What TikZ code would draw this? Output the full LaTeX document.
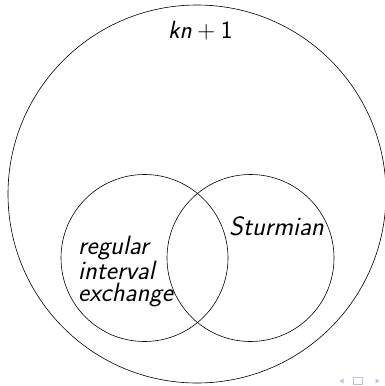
\documentclass[tikz,border=0pt]{standalone}
\usepackage{fontspec}
\definecolor{navcol}{RGB}{192,192,222}
\tikzset{
  setcircle/.style={circle, draw=black, line width=0.6pt, inner sep=0pt},
  lbl/.style={inner sep=0pt, font=\fontsize{26.5}{22}\selectfont\sffamily\itshape},
  toplbl/.style={inner sep=0pt, font=\fontsize{25}{22}\selectfont\sffamily\itshape},
}
\begin{document}
\begin{tikzpicture}[x=1pt,y=-1pt]
\useasboundingbox (0,0) rectangle (385,386);
\node[setcircle, minimum size=378pt] (all) at (197,194) {};
\node[setcircle, minimum size=167pt] (rie) at (144.5,258) {};
\node[setcircle, minimum size=167pt] (stu) at (250.5,258) {};
\node[toplbl, anchor=base west] (kn) at (168,38) {kn\hspace{0.2222em}{\upshape$+$}\hspace{0.2222em}{\upshape 1}};
\node[lbl, anchor=base west] (sturm) at (229,235) {Sturmian};
\node[lbl, anchor=base west, align=left] (riet) at (78,301.7) {regular\\interval\\exchange};
% navigation symbols
\fill[navcol] (343.5,378.5) -- (343.5,383.5) -- (339.5,381) -- cycle;
\draw[navcol, line width=0.8pt] (353,377.5) rectangle (362.5,384);
\fill[navcol] (375.5,378.5) -- (375.5,383.5) -- (379.5,381) -- cycle;
\end{tikzpicture}
\end{document}
